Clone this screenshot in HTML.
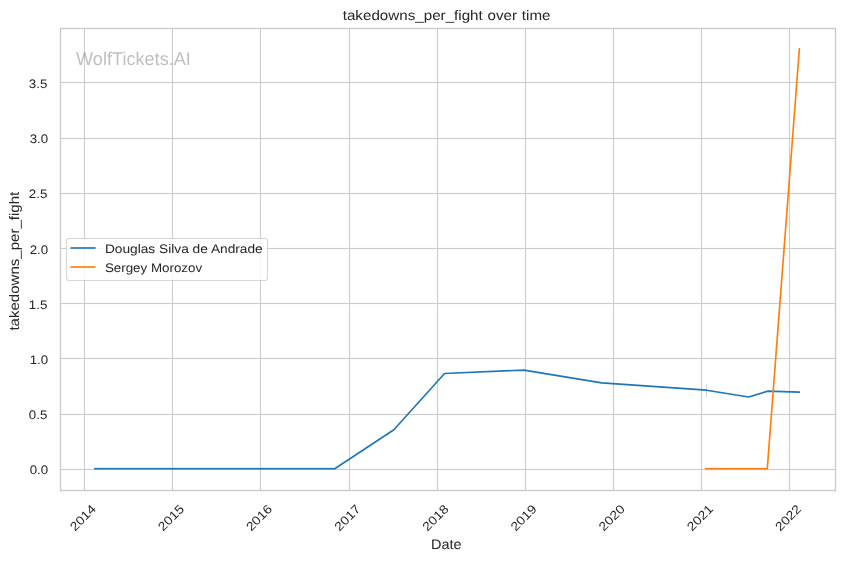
<!DOCTYPE html>
<html lang="en">
<head>
<meta charset="utf-8">
<title>takedowns_per_fight over time</title>
<style>
html,body{margin:0;padding:0;background:#ffffff;}
body{width:844px;height:561px;overflow:hidden;font-family:"Liberation Sans",sans-serif;}
svg{display:block;position:absolute;left:0;top:0;will-change:transform;}
text{font-family:"Liberation Sans",sans-serif;fill:#262626;text-rendering:geometricPrecision;filter:grayscale(1);}
.grid rect{fill:#cccccc;}
.spine rect{fill:#cccccc;}
.series{fill:none;stroke-width:1.67;stroke-linecap:round;stroke-linejoin:round;}
</style>
</head>
<body>
<svg width="844" height="561" viewBox="0 0 844 561">
<rect x="0" y="0" width="844" height="561" fill="#ffffff"/>

<g class="grid">
<rect x="83.945" y="28.5" width="1.11" height="462"/>
<rect x="171.945" y="28.5" width="1.11" height="462"/>
<rect x="259.945" y="28.5" width="1.11" height="462"/>
<rect x="348.945" y="28.5" width="1.11" height="462"/>
<rect x="436.945" y="28.5" width="1.11" height="462"/>
<rect x="524.945" y="28.5" width="1.11" height="462"/>
<rect x="612.945" y="28.5" width="1.11" height="462"/>
<rect x="700.945" y="28.5" width="1.11" height="462"/>
<rect x="788.945" y="28.5" width="1.11" height="462"/>
<rect x="60.5" y="81.945" width="775" height="1.11"/>
<rect x="60.5" y="137.945" width="775" height="1.11"/>
<rect x="60.5" y="192.945" width="775" height="1.11"/>
<rect x="60.5" y="247.945" width="775" height="1.11"/>
<rect x="60.5" y="302.945" width="775" height="1.11"/>
<rect x="60.5" y="357.945" width="775" height="1.11"/>
<rect x="60.5" y="413.945" width="775" height="1.11"/>
<rect x="60.5" y="468.945" width="775" height="1.11"/>
</g>
<rect x="706.0" y="383.6" width="1" height="13.8" fill="#1f77b4" fill-opacity="0.24"/>
<rect x="94.11" y="467.875" width="239.39" height="1.67" fill="#1f77b4"/>
<polyline class="series" stroke="#1f77b4" points="333.50,468.71 334.74,468.71 393.87,429.70 444.56,373.50 523.90,370.10 601.69,382.85 706.45,390.20 748.68,396.95 767.50,391.20 799.37,392.20"/>
<rect x="704.885" y="467.875" width="61.115" height="1.67" fill="#ff7f0e"/>
<polyline class="series" stroke="#ff7f0e" points="766.00,468.71 767.27,468.71 799.37,48.71"/>
<g class="spine">
<rect x="59.805" y="27.805" width="1.39" height="463.39"/><rect x="834.805" y="27.805" width="1.39" height="463.39"/>
<rect x="59.805" y="27.805" width="776.39" height="1.39"/><rect x="59.805" y="489.805" width="776.39" height="1.39"/>
</g>
<g>
<text transform="translate(47.30 87.70) scale(1.07 1)" font-size="12.4" text-anchor="end" >3.5</text>
<text transform="translate(48.10 142.70) scale(1.07 1)" font-size="12.4" text-anchor="end" >3.0</text>
<text transform="translate(47.30 197.70) scale(1.07 1)" font-size="12.4" text-anchor="end" >2.5</text>
<text transform="translate(48.10 253.70) scale(1.07 1)" font-size="12.4" text-anchor="end" >2.0</text>
<text transform="translate(47.30 308.70) scale(1.07 1)" font-size="12.4" text-anchor="end" >1.5</text>
<text transform="translate(48.10 363.70) scale(1.07 1)" font-size="12.4" text-anchor="end" >1.0</text>
<text transform="translate(47.30 418.70) scale(1.07 1)" font-size="12.4" text-anchor="end" >0.5</text>
<text transform="translate(48.10 473.70) scale(1.07 1)" font-size="12.4" text-anchor="end" >0.0</text>
</g>
<g>
<text transform="translate(82.80 517.70) rotate(-45) scale(1.12 1)" font-size="12.4" text-anchor="middle" y="4.3">2014</text>
<text transform="translate(170.90 517.70) rotate(-45) scale(1.12 1)" font-size="12.4" text-anchor="middle" y="4.3">2015</text>
<text transform="translate(259.00 517.70) rotate(-45) scale(1.12 1)" font-size="12.4" text-anchor="middle" y="4.3">2016</text>
<text transform="translate(347.34 517.70) rotate(-45) scale(1.12 1)" font-size="12.4" text-anchor="middle" y="4.3">2017</text>
<text transform="translate(435.43 517.70) rotate(-45) scale(1.12 1)" font-size="12.4" text-anchor="middle" y="4.3">2018</text>
<text transform="translate(523.53 517.70) rotate(-45) scale(1.12 1)" font-size="12.4" text-anchor="middle" y="4.3">2019</text>
<text transform="translate(611.63 517.70) rotate(-45) scale(1.12 1)" font-size="12.4" text-anchor="middle" y="4.3">2020</text>
<text transform="translate(699.97 517.70) rotate(-45) scale(1.12 1)" font-size="12.4" text-anchor="middle" y="4.3">2021</text>
<text transform="translate(788.07 517.70) rotate(-45) scale(1.12 1)" font-size="12.4" text-anchor="middle" y="4.3">2022</text>
</g>
<text transform="translate(446.60 20.30) scale(1.1 1)" font-size="13.8" text-anchor="middle" word-spacing="0.5">takedowns_per_fight over time</text>
<text transform="translate(446.30 548.90) scale(1.05 1)" font-size="13.8" text-anchor="middle" >Date</text>
<text transform="translate(18.60 261.20) rotate(-90) scale(1.09 1)" font-size="13.8" text-anchor="middle" >takedowns_per_fight</text>
<text transform="translate(76.10 65.20) scale(0.985 1)" font-size="18.4" text-anchor="start" style="fill:#808080" fill-opacity="0.5">WolfTickets.AI</text>
<path d="M68.94,238.5 L265.06,238.5 Q267.5,238.5 267.5,240.94 L267.5,278.06 Q267.5,280.5 265.06,280.5 L68.94,280.5 Q66.5,280.5 66.5,278.06 L66.5,240.94 Q66.5,238.5 68.94,238.5 Z" fill="#ffffff" fill-opacity="0.8" stroke="#cccccc" stroke-opacity="0.8" stroke-width="1.11"/>
<rect x="70.45" y="247.165" width="25.1" height="1.67" fill="#1f77b4"/>
<rect x="70.45" y="266.165" width="25.1" height="1.67" fill="#ff7f0e"/>
<text transform="translate(104.90 253.00) scale(1.107 1)" font-size="12.4" text-anchor="start" >Douglas Silva de Andrade</text>
<text transform="translate(104.90 272.10) scale(1.078 1)" font-size="12.4" text-anchor="start" >Sergey Morozov</text>
</svg>
</body>
</html>
